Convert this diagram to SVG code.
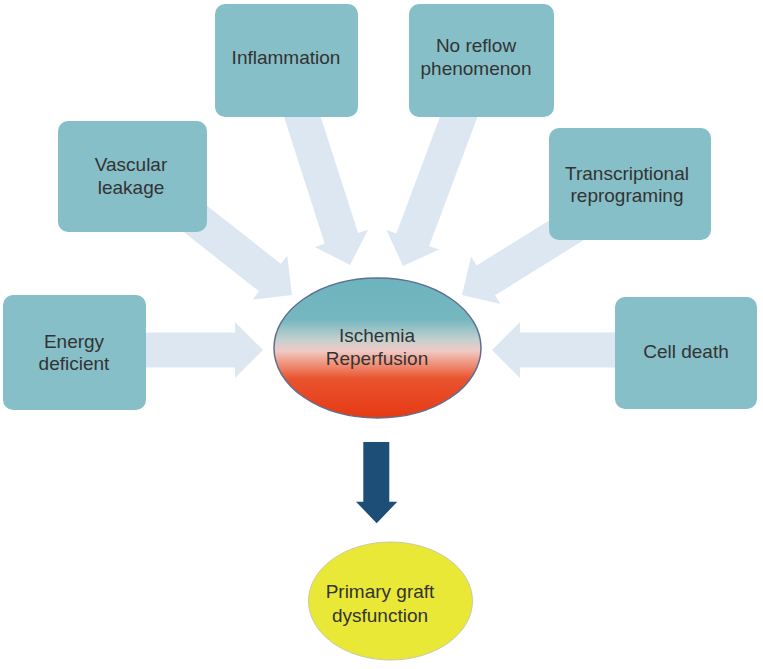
<svg xmlns="http://www.w3.org/2000/svg" width="763" height="669" viewBox="0 0 763 669">
<defs>
<linearGradient id="ir" x1="0" y1="0" x2="0" y2="1">
<stop offset="0" stop-color="#6db4be"/>
<stop offset="0.3" stop-color="#76b7bf"/>
<stop offset="0.44" stop-color="#c4d0ce"/>
<stop offset="0.52" stop-color="#f0cac6"/>
<stop offset="0.6" stop-color="#ef9a84"/>
<stop offset="0.72" stop-color="#e9532e"/>
<stop offset="1" stop-color="#e63a14"/>
</linearGradient>
<style>
.box{fill:#86bfc8;}
.arr{fill:#dce7f2;}
.t{font-family:"Liberation Sans",Arial,sans-serif;font-size:19px;fill:#333;text-anchor:middle;}
</style>
</defs>
<rect width="763" height="669" fill="#fff"/>
<g id="connectors">
<path class="arr" transform="translate(130,350)" d="M0,-17.5 H105 V-28 L133,0 L105,28 V17.5 H0 Z"/>
<path class="arr" transform="translate(625,350) rotate(180)" d="M0,-17.5 H105 V-28 L133,0 L105,28 V17.5 H0 Z"/>
<path class="arr" transform="translate(165,195) rotate(38.2)" d="M0,-17.5 H133.6 V-28 L161.6,0 L133.6,28 V17.5 H0 Z"/>
<path class="arr" transform="translate(297,100) rotate(72.2)" d="M0,-17.5 H145.3 V-28 L173.3,0 L145.3,28 V17.5 H0 Z"/>
<path class="arr" transform="translate(465,100) rotate(110.5)" d="M0,-17.5 H149.2 V-28 L177.2,0 L149.2,28 V17.5 H0 Z"/>
<path class="arr" transform="translate(575,225) rotate(148.2)" d="M0,-17.5 H104.9 V-28 L132.9,0 L104.9,28 V17.5 H0 Z"/>
<path fill="#1d4e78" d="M363.3,442 H389.3 V501.7 H397.3 L376.7,523.3 L356,501.7 H363.3 Z"/>
</g>
<g id="ischemia">
<ellipse cx="377.5" cy="348" rx="103.5" ry="70" fill="url(#ir)" stroke="#5d6f92" stroke-width="1.5"/>
<text class="t" x="377" y="342">Ischemia</text>
<text class="t" x="377" y="365">Reperfusion</text>
</g>
<g id="energy">
<rect class="box" x="3" y="295" width="143" height="115" rx="10"/>
<text class="t" x="74" y="348">Energy</text>
<text class="t" x="74" y="370">deficient</text>
</g>
<g id="vascular">
<rect class="box" x="58" y="121" width="149" height="111" rx="10"/>
<text class="t" x="131" y="171">Vascular</text>
<text class="t" x="131" y="194">leakage</text>
</g>
<g id="inflammation">
<rect class="box" x="215" y="4" width="143" height="113" rx="10"/>
<text class="t" x="286" y="64">Inflammation</text>
</g>
<g id="noreflow">
<rect class="box" x="409" y="4" width="145" height="113" rx="10"/>
<text class="t" x="476" y="52">No reflow</text>
<text class="t" x="476" y="75">phenomenon</text>
</g>
<g id="transcriptional">
<rect class="box" x="549" y="128" width="162" height="112" rx="10"/>
<text class="t" x="627" y="180">Transcriptional</text>
<text class="t" x="627" y="202">reprograming</text>
</g>
<g id="celldeath">
<rect class="box" x="615" y="297" width="142" height="112" rx="10"/>
<text class="t" x="686" y="358">Cell death</text>
</g>
<g id="pgd">
<ellipse cx="390.5" cy="601" rx="82" ry="59" fill="#e9e836" stroke="#c9c9a8" stroke-width="1"/>
<text class="t" x="380" y="598">Primary graft</text>
<text class="t" x="380" y="622">dysfunction</text>
</g>
</svg>
